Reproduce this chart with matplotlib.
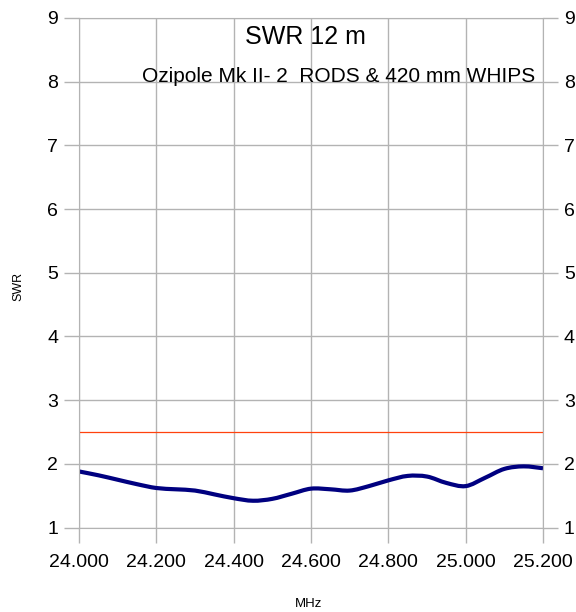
import matplotlib.pyplot as plt
from matplotlib.path import Path
from matplotlib.patches import PathPatch

# SWR readings every 50 kHz across the 12 m band
freq_mhz = [24.00, 24.05, 24.10, 24.15, 24.20, 24.25, 24.30, 24.35, 24.40,
            24.45, 24.50, 24.55, 24.60, 24.65, 24.70, 24.75, 24.80, 24.85,
            24.90, 24.95, 25.00, 25.05, 25.10, 25.15, 25.20]
swr = [1.88, 1.82, 1.75, 1.68, 1.62, 1.60, 1.58, 1.52, 1.46,
       1.42, 1.45, 1.53, 1.61, 1.60, 1.58, 1.65, 1.74, 1.81,
       1.80, 1.70, 1.65, 1.78, 1.92, 1.96, 1.93]
limit_freq = [24.00, 25.20]
limit_swr = [2.5, 2.5]

x_ticks = [24.0, 24.2, 24.4, 24.6, 24.8, 25.0, 25.2]
y_ticks = [1, 2, 3, 4, 5, 6, 7, 8, 9]


def smooth_path(xs, ys):
    # Catmull-Rom through the points, drawn as cubic Bezier segments
    pts = list(zip(xs, ys))
    verts = [pts[0]]
    codes = [Path.MOVETO]
    for i in range(len(pts) - 1):
        p0 = pts[max(i - 1, 0)]
        p1, p2 = pts[i], pts[i + 1]
        p3 = pts[min(i + 2, len(pts) - 1)]
        c1 = (p1[0] + (p2[0] - p0[0]) / 6, p1[1] + (p2[1] - p0[1]) / 6)
        c2 = (p2[0] - (p3[0] - p1[0]) / 6, p2[1] - (p3[1] - p1[1]) / 6)
        verts += [c1, c2, p2]
        codes += [Path.CURVE4] * 3
    return Path(verts, codes)


plt.rcParams['font.family'] = ['Liberation Sans', 'DejaVu Sans']
grid_col = '#b3b3b3'

fig = plt.figure(figsize=(5.76, 6.12), dpi=100)
ax = fig.add_axes([79/576, 1-527.5/612, (543-79)/576, (527.5-18)/612])

ax.plot(limit_freq, limit_swr, color='#ff420e', linewidth=0.9)
ax.add_patch(PathPatch(smooth_path(freq_mhz, swr), facecolor='none',
                       edgecolor='#000080', linewidth=3, capstyle='butt'))

ax.set_xlim(24.0, 25.2)
ax.set_ylim(1, 9)
ax.set_xticks(x_ticks)
ax.set_xticklabels([f'{v:.3f}' for v in x_ticks])
ax.set_yticks(y_ticks)
ax.tick_params(axis='both', direction='out', length=11, width=1, color=grid_col,
               labelsize=14, pad=4, right=True, labelright=True)
ax.tick_params(axis='x', pad=8)
ax.grid(True, color=grid_col, linewidth=1)
ax.set_axisbelow(True)
for s in ax.spines.values():
    s.set_color(grid_col)

fig.text(18.5/576, 1-286/612, 'SWR', rotation=90, fontsize=9, ha='center', va='center')
fig.text(309/576, 1-604/612, 'MHz', fontsize=9.5, ha='center', va='center')
fig.text(305/576, 1-37/612, 'SWR 12 m', fontsize=18, ha='center', va='center')
fig.text(339/576, 1-77/612, 'Ozipole Mk II- 2  RODS & 420 mm WHIPS', fontsize=15,
         ha='center', va='center')

fig.savefig('out.png', dpi=100)
